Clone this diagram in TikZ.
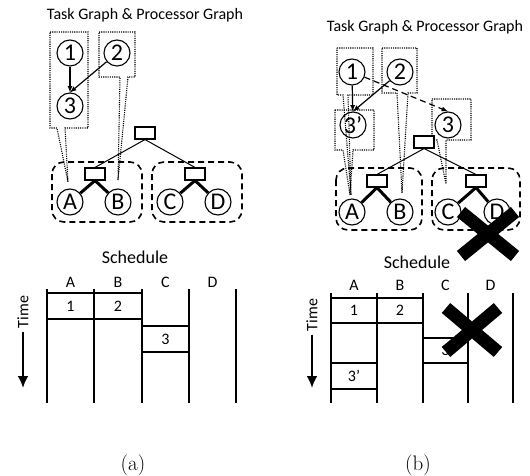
\documentclass[tikz,border=0pt]{standalone}
\usepackage{fontspec}
\newfontfamily\calib[Ligatures=TeX]{Carlito}
\usetikzlibrary{arrows.meta}

\begin{document}
\begin{tikzpicture}
                    [x=1pt,y=-1pt,>=latex,
                     task/.style={circle,draw,line width=1.1pt,minimum size=26pt,inner sep=0pt,font=\calib\fontsize{24}{25}\selectfont},
                     proc/.style={draw,line width=1.1pt,minimum width=20pt,minimum height=12pt,inner sep=0pt,fill=white},
                     cluster/.style={draw,dash pattern=on 6pt off 4pt,line width=1.6pt,rounded corners=12pt},
                     callout/.style={draw,dash pattern=on 1.1pt off 1.1pt,line width=1.1pt},
                     head/.style={font=\calib\fontsize{16}{18}\selectfont},
                     sched/.style={font=\calib\fontsize{18}{20}\selectfont},
                     lbl/.style={font=\calib\fontsize{16}{18}\selectfont},
                     slot/.style={draw,line width=1.4pt,inner sep=0pt,font=\calib\fontsize{16}{18}\selectfont},
                     lane/.style={line width=1.8pt},
                     cross/.style={line width=13pt},
                     subcap/.style={font=\fontsize{21}{24}\selectfont}]

                    \useasboundingbox (0,0) rectangle (530,476);

                    % ---------- (a) ----------
                    \node[head] (ta) at (145,15) {Task Graph \& Processor Graph};

                    \draw[callout] (50,32) -- (88,32) -- (88,128) -- (65,128) -- (68,182) -- (57,128) -- (50,128) -- cycle;
                    \draw[callout] (99,32) -- (135,32) -- (135,77) -- (128,77) -- (118,180) -- (120,77) -- (99,77) -- cycle;

                    \node[task] (a1) at (70,53) {1};
                    \node[task] (a2) at (117,53) {2};
                    \node[task] (a3) at (70,106) {3};
                    \draw[->,line width=1.2pt] (a1) -- (a3);
                    \draw[->,line width=1.2pt] (a2) -- (a3.north);

                    \draw[cluster] (52,162) rectangle (142,222);
                    \draw[cluster] (152,162) rectangle (242,222);

                    \node[proc] (aroot) at (145,133) {};
                    \node[proc] (aleft) at (95,174) {};
                    \node[proc] (aright) at (195,174) {};
                    \node[task] (aA) at (70,202) {A};
                    \node[task] (aB) at (118,202) {B};
                    \node[task] (aC) at (170,202) {C};
                    \node[task] (aD) at (218,202) {D};
                    \draw[line width=1pt] (aroot.south) -- (aleft.north);
                    \draw[line width=1pt] (aroot.south) -- (aright.north);
                    \draw[line width=3pt] (aleft.south) -- (aA);
                    \draw[line width=3pt] (aleft.south) -- (aB);
                    \draw[line width=3pt] (aright.south) -- (aC);
                    \draw[line width=3pt] (aright.south) -- (aD);

                    % schedule (a)
                    \node[sched] (sa) at (135,257) {Schedule};
                    \node[lbl] at (70.5,282) {A};
                    \node[lbl] at (118,282) {B};
                    \node[lbl] at (165.5,282) {C};
                    \node[lbl] at (212.5,282) {D};
                    \foreach \x in {47,94,142,189,236}
                        \draw[lane] (\x,289) -- (\x,403);
                    \node[slot,minimum width=47pt,minimum height=26pt] (sa1) at (70.5,306) {1};
                    \node[slot,minimum width=48pt,minimum height=26pt] (sa2) at (118,306) {2};
                    \node[slot,minimum width=47pt,minimum height=26pt] (sa3) at (165.5,339) {3};
                    \node[lbl,rotate=90] (tma) at (23,312) {Time};
                    \draw[-{Latex[length=12pt,width=11pt]},line width=2.4pt] (tma.west) -- (23,388);

                    % ---------- (b) ----------
                    \node[head] (tb) at (425,27) {Task Graph \& Processor Graph};

                    \draw[callout] (337,48) -- (373,48) -- (373,95) -- (348,95) -- (351,195) -- (343,95) -- (337,95) -- cycle;
                    \draw[callout] (382,48) -- (417,48) -- (417,93) -- (408,93) -- (402,193) -- (397,93) -- (382,93) -- cycle;
                    \draw[callout] (335,110) -- (374,110) -- (374,150) -- (353,150) -- (350,195) -- (343,150) -- (335,150) -- cycle;
                    \draw[callout] (432,99) -- (471,99) -- (471,140) -- (446,140) -- (446,184) -- (437,140) -- (432,140) -- cycle;

                    \node[task] (b1) at (352,72) {1};
                    \node[task] (b2) at (400,72) {2};
                    \node[task] (b3p) at (353,125) {3’};
                    \node[task] (b3) at (448,125) {3};
                    \draw[->,line width=1.2pt] (b1) -- (b3p);
                    \draw[->,line width=1.2pt] (b2) -- (b3p.north);
                    \draw[->,line width=1.2pt,dash pattern=on 6pt off 4pt] (b1) -- (b3.north);

                    \draw[cluster] (336,168) rectangle (422,230);
                    \draw[cluster] (432,168) rectangle (520,230);

                    \node[proc] (broot) at (424,142) {};
                    \node[proc] (bleft) at (377,181) {};
                    \node[proc] (bright) at (476,181) {};
                    \node[task] (bA) at (352,212) {A};
                    \node[task] (bB) at (400,212) {B};
                    \node[task] (bC) at (448,212) {C};
                    \node[task] (bD) at (497,212) {D};
                    \draw[line width=1pt] (broot.south) -- (bleft.north);
                    \draw[line width=1pt] (broot.south) -- (bright.north);
                    \draw[line width=3pt] (bleft.south) -- (bA);
                    \draw[line width=3pt] (bleft.south) -- (bB);
                    \draw[line width=3pt] (bright.south) -- (bC);
                    \draw[line width=3pt] (bright.south) -- (bD);

                    \draw[cross] (461,212) -- (515,256);
                    \draw[cross] (461,256) -- (515,212);

                    % schedule (b)
                    \node[sched] (sb) at (417,262) {Schedule};
                    \node[lbl] at (354,285) {A};
                    \node[lbl] at (400,285) {B};
                    \node[lbl] at (445.5,285) {C};
                    \node[lbl] at (490.5,285) {D};
                    \foreach \x in {331,377,423,468,513}
                        \draw[lane] (\x,293) -- (\x,403);
                    \node[slot,minimum width=46pt,minimum height=25pt] (sb1) at (354,310.5) {1};
                    \node[slot,minimum width=46pt,minimum height=25pt] (sb2) at (400,310.5) {2};
                    \node[slot,minimum width=45pt,minimum height=25pt] (sb3) at (445.5,350.5) {3};
                    \node[slot,minimum width=46pt,minimum height=26pt] (sb3p) at (354,376) {3’};
                    \node[lbl,rotate=90] (tmb) at (312,315) {Time};
                    \draw[-{Latex[length=12pt,width=11pt]},line width=2.4pt] (tmb.west) -- (312,388);

                    \draw[cross] (446,308) -- (498,352);
                    \draw[cross] (446,352) -- (498,308);

                    \node[subcap] (ca) at (133,465) {(a)};
                    \node[subcap] (cb) at (418,465) {(b)};

                \end{tikzpicture}
\end{document}
